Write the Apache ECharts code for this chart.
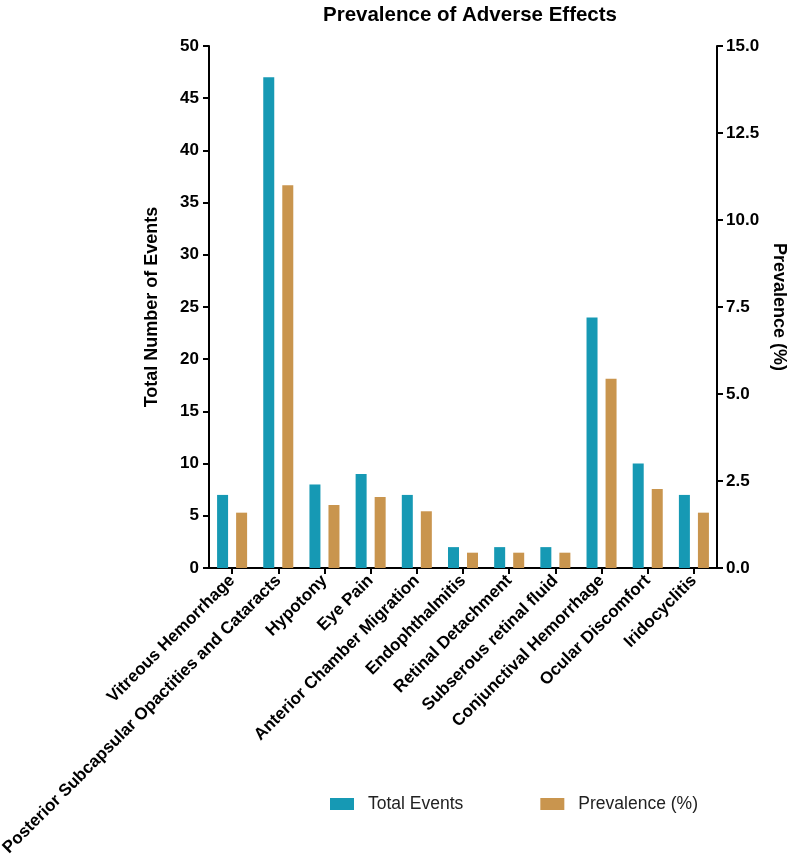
<!DOCTYPE html>
<html>
<head>
<meta charset="utf-8">
<script src="https://cdn.jsdelivr.net/npm/echarts@6/dist/echarts.min.js"></script>
<style>html,body{margin:0;padding:0;background:#fff;}#chart{width:787px;height:865px;}</style>
</head>
<body>
<div id="chart"></div>
<script>
const categories = [
  'Vitreous Hemorrhage',
  'Posterior Subcapsular Opactities and Cataracts',
  'Hypotony',
  'Eye Pain',
  'Anterior Chamber Migration',
  'Endophthalmitis',
  'Retinal Detachment',
  'Subserous retinal fluid',
  'Conjunctival Hemorrhage',
  'Ocular Discomfort',
  'Iridocyclitis'
];
const totalEvents = [7, 47, 8, 9, 7, 2, 2, 2, 24, 10, 7];
const prevalence = [1.59, 11.0, 1.81, 2.04, 1.63, 0.44, 0.44, 0.44, 5.44, 2.27, 1.59];
const leftTicks = {min: 0, max: 50, interval: 5};
const rightTicks = {min: 0, max: 15, interval: 2.5};

const FONT = "'Liberation Sans', Arial, sans-serif";
const chart = echarts.init(document.getElementById('chart'), null, {renderer: 'canvas'});
const axisLine = {show: true, lineStyle: {color: '#000', width: 2}};
const axisTick = {show: true, inside: false, length: 6, lineStyle: {color: '#000', width: 2}};
chart.setOption({
  animation: false,
  backgroundColor: '#fff',
  title: {
    text: 'Prevalence of Adverse Effects',
    left: 465, top: 0, textAlign: 'center',
    textStyle: {fontFamily: FONT, fontWeight: 'bold', fontSize: 20.5, color: '#000'}
  },
  legend: {
    left: 325, top: 790,
    itemWidth: 24, itemHeight: 12, itemGap: 77,
    icon: 'rect',
    textStyle: {fontFamily: FONT, fontSize: 17.5, color: '#222', padding: [0, 0, 0, 9]},
    data: ['Total Events', 'Prevalence (%)']
  },
  grid: {left: 209, right: 70, top: 46, bottom: 297, containLabel: false, outerBoundsMode: 'none'},
  xAxis: {
    type: 'category',
    data: categories,
    axisLine: axisLine,
    axisTick: Object.assign({alignWithLabel: true}, axisTick),
    axisLabel: {rotate: 45, interval: 0, margin: 10, fontFamily: FONT, fontWeight: 'bold', fontSize: 17, color: '#000'}
  },
  yAxis: [
    {
      type: 'value', position: 'left',
      min: leftTicks.min, max: leftTicks.max, interval: leftTicks.interval,
      name: 'Total Number of Events', nameLocation: 'middle', nameGap: 48,
      nameTextStyle: {fontFamily: FONT, fontWeight: 'bold', fontSize: 18, color: '#000'},
      axisLine: axisLine, axisTick: axisTick,
      splitLine: {show: false},
      axisLabel: {margin: 10, fontFamily: FONT, fontWeight: 'bold', fontSize: 17, color: '#000'}
    },
    {
      type: 'value', position: 'right',
      min: rightTicks.min, max: rightTicks.max, interval: rightTicks.interval,
      name: 'Prevalence (%)', nameLocation: 'middle', nameGap: 50, nameRotate: -90,
      nameTextStyle: {fontFamily: FONT, fontWeight: 'bold', fontSize: 18, color: '#000'},
      axisLine: axisLine, axisTick: axisTick,
      splitLine: {show: false},
      axisLabel: {margin: 9, fontFamily: FONT, fontWeight: 'bold', fontSize: 17, color: '#000',
        formatter: v => v.toFixed(1)}
    }
  ],
  series: [
    {
      name: 'Total Events', type: 'bar', yAxisIndex: 0,
      data: totalEvents, barWidth: 11, barGap: '73%',
      itemStyle: {color: '#1699b4'}
    },
    {
      name: 'Prevalence (%)', type: 'bar', yAxisIndex: 1,
      data: prevalence, barWidth: 11, barGap: '73%',
      itemStyle: {color: '#c9954e'}
    }
  ]
});
</script>
</body>
</html>
